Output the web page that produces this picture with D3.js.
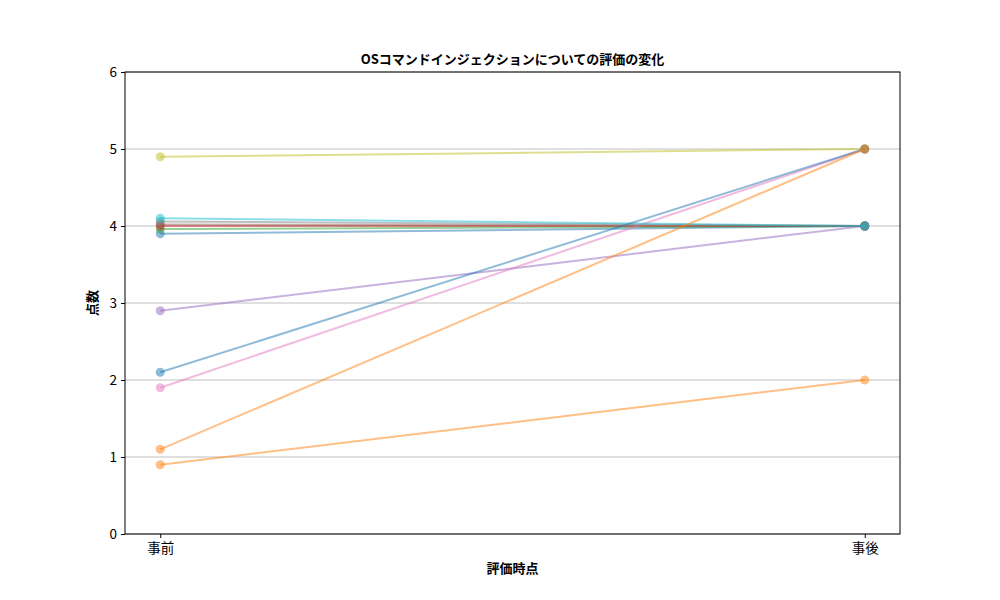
<!DOCTYPE html>
<html>
<head>
  <meta charset="utf-8">
  <title>評価の変化</title>
  <script src="https://d3js.org/d3.v7.min.js"></script>
  <style>
    body { margin: 0; background: #fff; }
    text { font-family: "Noto Sans CJK JP", "DejaVu Sans", sans-serif; }
    .axis text { fill: #000; font-size: 13.5px; }
    .axis path, .axis line { stroke: #000; }
  </style>
</head>
<body>
  <div id="chart"></div>
  <script>
    // categories and per-respondent scores (pre jittered as in the plot)
    const phases = ["事前", "事後"];
    const preScores  = [3.9, 0.9, 3.96, 4.0, 2.9, 4.02, 1.9, 4.06, 4.9, 4.1, 2.1, 1.1];
    const postScores = [4,   2,   4,    4,   4,   4,    5,   4,    5,   4,   5,   5];
    const yTicks = [0, 1, 2, 3, 4, 5, 6];
    const palette = ["#1f77b4", "#ff7f0e", "#2ca02c", "#d62728", "#9467bd",
                     "#8c564b", "#e377c2", "#7f7f7f", "#bcbd22", "#17becf"];

    const W = 1000, H = 600;
    const margin = { top: 72, right: 100, bottom: 66, left: 125 };
    const width = W - margin.left - margin.right,
      height = H - margin.top - margin.bottom;

    const svg = d3.select("#chart").append("svg")
      .attr("width", W).attr("height", H);

    const g = svg.append("g")
      .attr("transform", "translate(" + margin.left + "," + margin.top + ")");

    // matplotlib-like 5% margins on the category axis
    const x = d3.scaleLinear().domain([-0.05, 1.05]).range([0, width]);
    const y = d3.scaleLinear().domain([0, 6]).range([height, 0]);

    // horizontal grid
    g.append("g")
      .selectAll("line")
      .data(yTicks)
      .join("line")
      .attr("x1", 0).attr("x2", width)
      .attr("y1", d => y(d)).attr("y2", d => y(d))
      .attr("stroke", "#b0b0b0")
      .attr("stroke-width", 0.8);

    // lines + markers
    const rows = preScores.map((v, i) => ({ vals: [v, postScores[i]], color: palette[i % 10] }));
    rows.forEach(r => {
      const grp = g.append("g");
      grp.append("path")
        .attr("d", d3.line().x((d, i) => x(i)).y(d => y(d))(r.vals))
        .attr("fill", "none")
        .attr("stroke", r.color)
        .attr("stroke-opacity", 0.5)
        .attr("stroke-width", 2);
      grp.selectAll("circle")
        .data(r.vals)
        .join("circle")
        .attr("cx", (d, i) => x(i))
        .attr("cy", d => y(d))
        .attr("r", 4.5)
        .attr("fill", r.color)
        .attr("fill-opacity", 0.5);
    });

    // axes
    g.append("g")
      .attr("class", "axis")
      .attr("transform", "translate(0," + height + ")")
      .call(d3.axisBottom(x).tickValues([0, 1]).tickFormat(i => phases[i])
        .tickSizeOuter(0).tickSize(4).tickPadding(5))
      .call(a => a.select(".domain").remove());

    g.append("g")
      .attr("class", "axis")
      .call(d3.axisLeft(y).tickValues(yTicks).tickFormat(d3.format("d"))
        .tickSizeOuter(0).tickSize(4).tickPadding(4))
      .call(a => a.select(".domain").remove());

    // frame
    g.append("rect")
      .attr("width", width).attr("height", height)
      .attr("fill", "none").attr("stroke", "#000").attr("stroke-width", 1);

    // labels
    svg.append("text")
      .attr("x", margin.left + width / 2).attr("y", 64)
      .attr("text-anchor", "middle")
      .style("font-size", "13px").style("font-weight", "bold")
      .text("OSコマンドインジェクションについての評価の変化");

    svg.append("text")
      .attr("x", margin.left + width / 2).attr("y", 573)
      .attr("text-anchor", "middle")
      .style("font-size", "13px").style("font-weight", "bold")
      .text("評価時点");

    svg.append("text")
      .attr("transform", "translate(97," + (margin.top + height / 2) + ") rotate(-90)")
      .attr("text-anchor", "middle")
      .style("font-size", "13px").style("font-weight", "bold")
      .text("点数");
  </script>
</body>
</html>
